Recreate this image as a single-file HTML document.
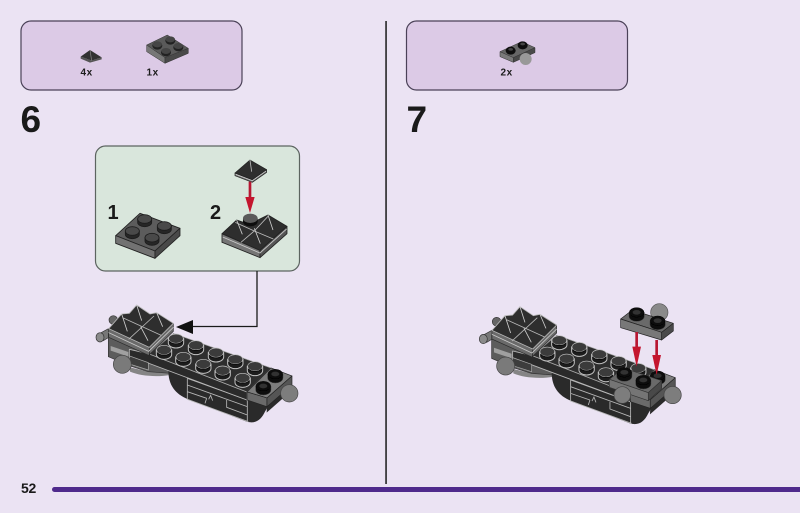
<!DOCTYPE html>
<html><head><meta charset="utf-8">
<style>
html,body{margin:0;padding:0;background:#ebe3f3}
svg{display:block}
text{font-family:"Liberation Sans",sans-serif;font-weight:bold;fill:#1a1a1a}
</style></head>
<body>
<svg width="800" height="513" viewBox="0 0 800 513" xmlns="http://www.w3.org/2000/svg">
<defs>
<filter id="soft" x="-5%" y="-5%" width="110%" height="110%"><feGaussianBlur stdDeviation="0.35"/></filter>
<g id="stud">
  <path d="M-23,-6 V7 A23,15 0 0 0 23,7 V-6 Z" fill="#1c1c1c" stroke="#c0c0c0" stroke-width="3"/>
  <ellipse cx="0" cy="-6" rx="22" ry="14" fill="#3a3a3a" stroke="#c0c0c0" stroke-width="2"/>
  <path d="M-20,2 A22,13 0 0 0 20,2" fill="none" stroke="#0c0c0c" stroke-width="3"/>
</g>
<g id="bstud">
  <path d="M-23,-5 V7 A23,15 0 0 0 23,7 V-5 Z" fill="#070707" stroke="#444" stroke-width="1.500"/>
  <ellipse cx="0" cy="-5" rx="22" ry="14" fill="#111" stroke="#050505" stroke-width="1.500"/>
  <ellipse cx="0" cy="-5" rx="12" ry="7" fill="#303030"/>
</g>
<g id="pyr2">
  <path d="M56,116 V142 L176,196 L250,124 V100 L178,172 Z" fill="#6a6a6a" stroke="#2a2a2a" stroke-width="2" stroke-linejoin="round"/>
  <path d="M178,172 V196" stroke="#222" stroke-width="2"/>
  <path d="M56,128 L176,184 L250,112" fill="none" stroke="#c8c8c8" stroke-width="2.500"/>
  <path d="M56,116 L95,72 L118,70 L140,45 L180,72 L200,68 L250,100 L178,172 Z" fill="#2d2d2d" stroke="#b8b8b8" stroke-width="2.500" stroke-linejoin="round"/>
  <path d="M100,84 L214,136 M192,78 L116,148" stroke="#b8b8b8" stroke-width="2.500" fill="none"/>
  <path d="M140,45 L155,92 M200,68 L218,110 M95,72 L112,124 M152,110 L174,152" stroke="#cfcfcf" stroke-width="2.500" fill="none"/>
</g>
<g id="model">
  <circle cx="70" cy="90" r="13" fill="#666" stroke="#333" stroke-width="2"/>
  <path d="M30,130 L70,108 L80,128 L40,152 Z" fill="#777" stroke="#333" stroke-width="2"/>
  <ellipse cx="30" cy="142" rx="12" ry="14" fill="#8a8a8a" stroke="#333" stroke-width="2"/>
  <path d="M120,232 L175,245 L240,240 V255 C200,262 150,258 120,245 Z" fill="#858585"/>
  <path d="M55,130 V200 L120,228 L175,245 L240,250 V215 L178,190 Z" fill="#5c5c5c" stroke="#333" stroke-width="2"/>
  <path d="M62,168 L115,186 V200 L62,182 Z" fill="#a0a0a0"/>
  <path d="M235,240 C235,285 255,312 295,328 L470,395 C495,402 512,392 525,365 L540,340 L600,285 L540,320 L471,306 Z" fill="#2c2c2c"/>
  <path d="M292,265 L472,330 V395 M292,265 V305 L350,325 M292,285 L472,350 M292,305 V328 L475,395 M410,330 V352 L472,375 M350,325 L345,340 M356,328 L362,316 L368,332" fill="none" stroke="#b8b8b8" stroke-width="2.500"/>
  <path d="M118,178 L178,192 L471,306 V330 L118,198 Z" fill="#2c2c2c" stroke="#b8b8b8" stroke-width="2.500" stroke-linejoin="round"/>
  <path d="M118,198 V222 L175,240 V218 Z" fill="#3d3d3d" stroke="#aaa" stroke-width="2"/>
  <path d="M178,192 L250,130 L543,234 L471,306 Z" fill="#2f2f2f" stroke="#aaa" stroke-width="2" stroke-linejoin="round"/>
  <path d="M531,350 L603,285 L590,315 L530,368 Z" fill="#2c2c2c"/>
  <path d="M471,306 L543,234 L606,258 L531,324 Z" fill="#7d7d7d" stroke="#222" stroke-width="2" stroke-linejoin="round"/>
  <path d="M471,306 V330 L531,350 V324 Z" fill="#6a6a6a" stroke="#222" stroke-width="2" stroke-linejoin="round"/>
  <path d="M531,324 L606,258 V285 L531,350 Z" fill="#555" stroke="#222" stroke-width="2" stroke-linejoin="round"/>
  <circle cx="97" cy="223" r="27" fill="#7a7a7a" stroke="#444" stroke-width="2"/>
  <circle cx="598" cy="310" r="26" fill="#7d7d7d" stroke="#444" stroke-width="2"/>
  <use href="#stud" x="258" y="152"/>
  <use href="#stud" x="318" y="172"/>
  <use href="#stud" x="378" y="194"/>
  <use href="#stud" x="436" y="214"/>
  <use href="#stud" x="495" y="235"/>
  <use href="#stud" x="222" y="186"/>
  <use href="#stud" x="280" y="207"/>
  <use href="#stud" x="340" y="228"/>
  <use href="#stud" x="398" y="248"/>
  <use href="#stud" x="458" y="270"/>
  <use href="#pyr2"/>
</g>
</defs>

<rect width="800" height="513" fill="#ebe3f3"/>

<rect x="21" y="21" width="221" height="69" rx="10" fill="#dccae6" stroke="#4b4258" stroke-width="1.200"/>
<rect x="406.500" y="21" width="221" height="69" rx="10" fill="#dccae6" stroke="#4b4258" stroke-width="1.200"/>

<rect x="385.300" y="21" width="1.500" height="463" fill="#1a1a1a"/>

<g filter="url(#soft)">
<g transform="translate(10,10) scale(0.3333)">
  <path d="M212,140 L240,120 L275,142 L245,152 Z" fill="#333"/>
  <path d="M212,140 L245,152 L275,142 V148 L240,158 L212,146 Z" fill="#555"/>
  <path d="M240,120 L245,152" stroke="#888" stroke-width="2"/>
  <path d="M410,105 L472,75 L535,115 L465,143 Z" fill="#5a5a5a" stroke="#333" stroke-width="1.500"/>
  <path d="M410,105 V125 L465,160 V143 Z" fill="#777" stroke="#333" stroke-width="1.500"/>
  <path d="M465,143 V160 L535,130 V115 Z" fill="#484848" stroke="#333" stroke-width="1.500"/>
  <g fill="#222">
    <ellipse cx="481" cy="92" rx="15" ry="12"/><ellipse cx="442" cy="107" rx="15" ry="12"/>
    <ellipse cx="505" cy="112" rx="15" ry="12"/><ellipse cx="468" cy="127" rx="15" ry="12"/>
  </g>
  <g fill="#444">
    <ellipse cx="481" cy="88" rx="14" ry="9"/><ellipse cx="442" cy="103" rx="14" ry="9"/>
    <ellipse cx="505" cy="108" rx="14" ry="9"/><ellipse cx="468" cy="123" rx="14" ry="9"/>
  </g>
</g>
<text x="80.500" y="75.500" font-size="10" letter-spacing="0.6">4x</text>
<text x="146.500" y="75.500" font-size="10" letter-spacing="0.6">1x</text>

<g transform="translate(400,10) scale(0.3333)">
  <path d="M300,125 L365,95 L405,113 L340,143 Z" fill="#666" stroke="#333" stroke-width="1.500"/>
  <path d="M300,125 V140 L340,157 V143 Z" fill="#7a7a7a" stroke="#333" stroke-width="1.500"/>
  <path d="M340,143 V157 L405,128 V113 Z" fill="#4a4a4a" stroke="#333" stroke-width="1.500"/>
  <ellipse cx="332" cy="122" rx="15" ry="12" fill="#0c0c0c"/><ellipse cx="332" cy="118" rx="7" ry="4" fill="#444"/>
  <ellipse cx="368" cy="106" rx="15" ry="12" fill="#0c0c0c"/><ellipse cx="368" cy="102" rx="7" ry="4" fill="#444"/>
  <circle cx="377" cy="147" r="18" fill="#999"/>
</g>
<text x="500.500" y="75.500" font-size="10" letter-spacing="0.6">2x</text>
</g>

<text x="20.500" y="132" font-size="37">6</text>
<text x="406.500" y="132" font-size="37">7</text>

<rect x="95.500" y="146" width="204" height="125" rx="10" fill="#d9e6dc" stroke="#5c6460" stroke-width="1.200"/>
<text x="107.500" y="219" font-size="20">1</text>
<text x="210" y="219" font-size="20">2</text>

<g filter="url(#soft)">
<g transform="translate(95,145) scale(0.3333)">
  <path d="M62,272 L135,205 L255,250 L180,318 Z" fill="#5c5c5c" stroke="#222" stroke-width="2.500" stroke-linejoin="round"/>
  <path d="M62,272 V295 L180,340 V318 Z" fill="#727272" stroke="#222" stroke-width="2.500" stroke-linejoin="round"/>
  <path d="M180,318 V340 L255,272 V250 Z" fill="#4a4a4a" stroke="#222" stroke-width="2.500" stroke-linejoin="round"/>
  <g fill="#262626" stroke="#1d1d1d" stroke-width="2.500">
    <path d="M128,222 V232 A21,13 0 0 0 170,232 V222 Z"/><ellipse cx="149" cy="222" rx="21" ry="13" fill="#4a4a4a"/>
    <path d="M187,243 V253 A21,13 0 0 0 229,253 V243 Z"/><ellipse cx="208" cy="243" rx="21" ry="13" fill="#4a4a4a"/>
    <path d="M91,258 V268 A21,13 0 0 0 133,268 V258 Z"/><ellipse cx="112" cy="258" rx="21" ry="13" fill="#4a4a4a"/>
    <path d="M150,278 V288 A21,13 0 0 0 192,288 V278 Z"/><ellipse cx="171" cy="278" rx="21" ry="13" fill="#4a4a4a"/>
  </g>
  <!-- plate 2 with pyramids -->
  <path d="M381,266 V292 L495,338 V316 Z" fill="#747474" stroke="#222" stroke-width="2.500" stroke-linejoin="round"/>
  <path d="M495,316 V338 L576,266 V244 Z" fill="#555" stroke="#222" stroke-width="2.500" stroke-linejoin="round"/>
  <path d="M381,266 L425,225 L462,238 L519,210 L576,244 L495,316 Z" fill="#2d2d2d" stroke="#222" stroke-width="2.500" stroke-linejoin="round"/>
  <path d="M383,276 L495,324 L575,252" fill="none" stroke="#ccc" stroke-width="2.500"/>
  <path d="M421,232 L478,258 M519,214 L478,258 M478,258 L535,282 M478,258 L438,292" fill="none" stroke="#bcbcbc" stroke-width="2.500"/>
  <path d="M425,225 L442,268 M519,210 L534,255 M478,250 L496,296" fill="none" stroke="#cfcfcf" stroke-width="2.500"/>
  <path d="M444,220 V230 A22,14 0 0 0 488,230 V220 Z" fill="#0c0c0c"/>
  <ellipse cx="466" cy="220" rx="22" ry="14" fill="#5a5a5a"/>
  <!-- loose pyramid -->
  <path d="M420,84 V92 L472,112 L515,82 V74 L472,104 Z" fill="#777" stroke="#222" stroke-width="2" stroke-linejoin="round"/>
  <path d="M420,84 L465,45 L515,74 L472,104 Z" fill="#2d2d2d" stroke="#222" stroke-width="2" stroke-linejoin="round"/>
  <path d="M465,45 L470,80" stroke="#bbb" stroke-width="2.500"/>
  <path d="M422,88 L472,107 L513,78" fill="none" stroke="#ddd" stroke-width="2"/>
  <rect x="461" y="110" width="8" height="50" fill="#b81530"/>
  <path d="M451,156 L479,156 L465,204 Z" fill="#c4122f"/>
</g>

<g transform="translate(90,290) scale(0.3333)">
  <use href="#model"/>
  <use href="#bstud" x="556" y="257"/>
  <use href="#bstud" x="520" y="293"/>
</g>

<g transform="translate(473.300,291.700) scale(0.3333)">
  <use href="#model"/>
  <use href="#bstud" x="553" y="257"/>
</g>
<g transform="translate(470,290) scale(0.3333)">
  <path d="M418,268 L460,234 L575,272 L535,308 Z" fill="#6a6a6a" stroke="#333" stroke-width="2" stroke-linejoin="round"/>
  <path d="M418,268 V292 L535,332 V308 Z" fill="#757575" stroke="#333" stroke-width="2" stroke-linejoin="round"/>
  <path d="M535,308 V332 L575,295 V272 Z" fill="#4a4a4a" stroke="#333" stroke-width="2" stroke-linejoin="round"/>
  <use href="#bstud" x="463" y="252"/>
  <use href="#bstud" x="520" y="275"/>
  <circle cx="457" cy="315" r="25" fill="#7d7d7d" stroke="#444" stroke-width="2"/>
  <circle cx="568" cy="67" r="26" fill="#8a8a8a" stroke="#555" stroke-width="2"/>
  <path d="M452,87 L487,60 L610,100 L575,127 Z" fill="#6a6a6a" stroke="#222" stroke-width="2" stroke-linejoin="round"/>
  <path d="M452,87 V113 L575,150 V127 Z" fill="#787878" stroke="#222" stroke-width="2" stroke-linejoin="round"/>
  <path d="M575,127 V150 L610,123 V100 Z" fill="#4a4a4a" stroke="#222" stroke-width="2" stroke-linejoin="round"/>
  <use href="#bstud" x="500" y="72"/>
  <use href="#bstud" x="563" y="97"/>
  <rect x="496" y="126" width="8" height="50" fill="#b81530"/>
  <path d="M487,170 L513,170 L500,230 Z" fill="#c4122f"/>
  <rect x="556" y="150" width="8" height="50" fill="#b81530"/>
  <path d="M547,195 L573,195 L560,255 Z" fill="#c4122f"/>
</g>
</g>

<path d="M257,271 V326.500 H190" fill="none" stroke="#1a1a1a" stroke-width="1.300"/>
<path d="M176,327 L193,320 L193,334 Z" fill="#111"/>

<text x="21" y="493" font-size="14" letter-spacing="-0.3">52</text>
<path d="M54.500,487 H800 V492 H54.500 A2.500,2.500 0 0 1 54.500,487 Z" fill="#4f2a8c"/>
</svg>
</body></html>
